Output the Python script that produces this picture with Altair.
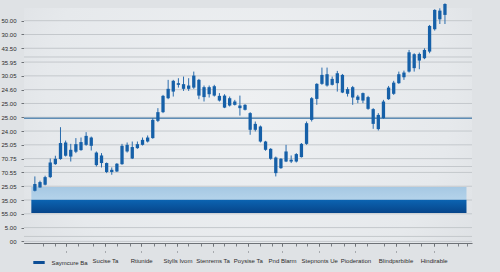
import altair as alt
import pandas as pd

# ---- data (chart units: one unit per y-axis tick) ----
high = [4.71,4.40,4.76,6.01,6.21,8.28,7.31,7.07,7.49,7.53,
        7.92,7.60,6.52,6.40,5.72,5.36,5.68,7.07,7.17,7.24,
        7.24,7.53,7.68,8.94,9.66,10.62,11.71,11.71,11.83,11.95,
        11.83,12.31,11.78,11.30,11.30,11.35,10.75,10.67,10.50,10.26,
        10.57,9.95,9.37,8.69,8.40,7.29,6.76,6.15,6.04,7.00,
        6.23,6.40,7.13,8.69,10.46,11.47,12.60,12.60,11.95,12.36,
        12.14,11.18,11.27,10.62,10.79,10.55,9.66,9.30,10.26,11.27,
        11.64,12.31,12.38,13.88,13.64,13.69,14.00,15.69,16.83,16.90,
        17.26]
body_high = [4.16,4.30,4.66,5.72,5.99,7.13,7.17,6.64,7.05,7.20,
             7.65,7.53,6.44,6.23,5.68,5.19,5.63,6.93,7.00,6.84,
             7.05,7.36,7.53,8.81,9.37,10.55,11.06,11.64,11.47,11.40,
             11.30,12.02,11.71,11.18,11.18,11.25,10.55,10.57,10.38,10.14,
             9.85,9.90,9.30,8.52,8.33,7.24,6.71,6.08,5.99,6.52,
             5.92,6.33,7.07,8.57,10.38,11.42,12.07,12.12,11.78,12.19,
             12.07,11.04,11.18,10.50,10.75,10.46,9.59,9.17,10.14,11.15,
             11.51,12.12,12.24,13.71,13.57,13.59,13.88,15.62,16.78,16.73,
             17.21]
body_low = [3.67,3.91,4.11,4.66,5.60,5.97,6.21,6.15,6.50,6.62,
            7.00,6.93,5.53,5.68,5.03,5.03,5.07,5.60,6.52,6.01,
            6.76,7.00,7.24,7.49,8.74,9.37,10.38,10.86,11.35,11.06,
            11.06,11.15,10.57,10.46,10.67,10.57,10.21,9.70,9.85,9.90,
            9.66,9.54,8.09,8.09,7.24,6.64,5.99,4.95,5.31,5.79,
            5.79,5.79,6.11,7.07,8.81,10.33,11.42,11.30,11.35,11.47,
            10.79,10.70,10.43,10.26,10.21,9.61,8.52,8.14,8.94,10.31,
            10.70,11.47,11.90,12.31,12.56,13.11,13.28,13.76,15.38,16.10,
            16.42]
low = [3.62,3.89,4.06,4.59,5.55,5.92,6.15,5.79,6.40,6.57,
       6.93,6.59,5.43,5.36,4.95,4.83,5.03,5.55,6.44,5.97,
       6.71,6.95,7.17,7.44,8.65,9.30,10.31,10.50,11.15,10.91,
       10.91,11.06,10.31,10.14,10.43,10.50,10.14,9.66,9.78,9.85,
       9.12,9.49,7.73,7.97,7.17,6.57,5.92,4.71,5.26,5.75,
       5.68,5.72,6.08,7.00,8.69,9.90,11.35,11.22,11.30,10.86,
       10.75,10.50,9.90,10.02,10.02,9.54,8.16,8.04,8.88,10.26,
       10.62,11.42,11.71,12.24,12.31,12.48,13.21,13.64,15.28,15.76,
       15.76]

y_labels = ["00", "5.00", "55.00", "35.00", "25.05", "70.55", "70.75", "25.05",
            "24.00", "25.00", "25.00", "24.60", "30.05", "35.95", "43.50", "30.00", "50.00"]
x_label_pos = [6.05, 13.68, 20.74, 27.80, 34.67, 41.54, 48.22, 55.47, 62.53, 70.36, 77.80]
x_labels = ["", "Sucise Ta", "Rtiunide", "Stylls Ivom", "Stenrems Ta", "Poysise Ta",
            "Pnd Blarm", "Stepnonts Ue", "Pioderation", "Blindpsrbible", "Hindirable"]
legend_label = "Saymcure Ba"
x_minor = [1.66, 3.95, 6.05, 8.34, 11.39, 13.68, 15.97, 18.64, 20.74, 23.23, 25.32, 27.80,
           29.90, 32.39, 34.67, 36.97, 39.26, 41.54, 43.84, 46.32, 48.22, 50.90, 53.00,
           55.47, 57.77, 60.25, 62.53, 64.83, 68.07, 70.36, 73.03, 75.32, 77.80, 80.47,
           82.57, 84.30]
ref_level = 8.93
extra_grid = [13.37, 5.43, 0.36]
light_band = [3.02, 3.94]
dark_band = [2.06, 3.02]
band_x = [-0.69, 84.2]

FONT = "Liberation Sans"
CANDLE = "#1660a8"

candles = pd.DataFrame({
    "i": list(range(len(high))),
    "high": high, "low": low, "bh": body_high, "bl": body_low,
})
xs = alt.Scale(domain=[-1.145, 84.3], nice=False, zero=False)
ys = alt.Scale(domain=[-0.116, 16.92], nice=False, zero=False)

one = pd.DataFrame({"a": [0]})

bg = alt.Chart(one).mark_rect(
    fill=alt.RadialGradient(
        gradient="radial", x1=0.5, y1=0.45, r1=0, x2=0.5, y2=0.45, r2=0.75,
        stops=[alt.GradientStop(color="#eef0f2", offset=0),
               alt.GradientStop(color="#e6e9ec", offset=0.6),
               alt.GradientStop(color="#d6d9dd", offset=1)])
).encode(x=alt.value(0), x2=alt.value("width"), y=alt.value(0), y2=alt.value("height"))

grid_df = pd.DataFrame({"g": list(range(len(y_labels))) + extra_grid})
grid = alt.Chart(grid_df).mark_rule(color="#c4c8cc", strokeWidth=1).encode(
    y=alt.Y("g:Q", scale=ys, axis=None))

ref = alt.Chart(pd.DataFrame({"r": [ref_level]})).mark_rule(
    color="#5f8db5", strokeWidth=1.6).encode(y=alt.Y("r:Q", scale=ys, axis=None))

bands_df = pd.DataFrame({
    "x0": [band_x[0]], "x1": [band_x[1]],
    "l0": [light_band[0]], "l1": [light_band[1]],
    "d0": [dark_band[0]], "d1": [dark_band[1]],
})
light = alt.Chart(bands_df).mark_rect(
    fill=alt.LinearGradient(gradient="linear", x1=0, y1=0, x2=0, y2=1,
                            stops=[alt.GradientStop(color="#a6c8e3", offset=0),
                                   alt.GradientStop(color="#b4d3ea", offset=1)])
).encode(x=alt.X("x0:Q", scale=xs, axis=None), x2="x1:Q",
         y=alt.Y("l0:Q", scale=ys, axis=None), y2="l1:Q")
dark = alt.Chart(bands_df).mark_rect(
    fill=alt.LinearGradient(gradient="linear", x1=0, y1=0, x2=0, y2=1,
                            stops=[alt.GradientStop(color="#0c64b2", offset=0),
                                   alt.GradientStop(color="#06458a", offset=1)])
).encode(x=alt.X("x0:Q", scale=xs, axis=None), x2="x1:Q",
         y=alt.Y("d0:Q", scale=ys, axis=None), y2="d1:Q")

minor_axis = alt.Axis(orient="bottom", values=x_minor, labels=False, tickSize=3,
                      tickColor="#7a7e83", domainColor="#6e7277", grid=False, title=None)
wicks = alt.Chart(candles).mark_rule(color="#2a6cad", strokeWidth=1).encode(
    x=alt.X("i:Q", scale=xs, axis=minor_axis),
    y=alt.Y("low:Q", scale=ys, axis=None), y2="high:Q")

pos_int = [int(round(p * 100)) for p in x_label_pos]
label_expr = "[" + ",".join("'%s'" % s for s in x_labels) + "][indexof([" + \
    ",".join(str(p) for p in pos_int) + "], round(datum.value*100))]"
major_axis = alt.Axis(orient="bottom", values=x_label_pos, labelExpr=label_expr,
                      tickSize=9, tickDash=[3, 5, 1, 50], tickColor="#6e7277",
                      domain=False, grid=False, title=None, labelPadding=5,
                      labelFont=FONT, labelFontSize=6, labelColor="#2b2b2b")
y_expr = "[" + ",".join("'%s'" % s for s in y_labels) + "][datum.value]"
y_axis = alt.Axis(values=list(range(len(y_labels))), labelExpr=y_expr, grid=False,
                  tickSize=3, labelPadding=5, tickColor="#6e7277", domainColor="#5a5e63",
                  labelFont=FONT, labelFontSize=6, labelColor="#2b2b2b", title=None)
bodies = alt.Chart(candles).mark_bar(size=3.3, color=CANDLE).encode(
    x=alt.X("i:Q", scale=xs, axis=major_axis),
    y=alt.Y("bl:Q", scale=ys, axis=y_axis), y2="bh:Q")

leg = alt.Chart(pd.DataFrame({"s": [legend_label]})).mark_rule(opacity=0).encode(
    y=alt.value(-50),
    color=alt.Color("s:N", scale=alt.Scale(range=["#0c4e96"]),
                    legend=alt.Legend(orient="none", legendX=7.5, legendY=247, title=None,
                                      symbolType="stroke", symbolSize=130,
                                      symbolStrokeWidth=3, symbolOpacity=1, padding=0,
                                      labelOffset=5, labelFont=FONT, labelFontSize=6,
                                      labelColor="#2b2b2b")))

chart = alt.layer(bg, grid, ref, light, dark, wicks, bodies, leg).resolve_axis(
    x="independent", y="independent"
).properties(
    width=448, height=235,
    padding={"left": 24, "top": 8, "right": 28, "bottom": 29},
    autosize=alt.AutoSizeParams(type="none"),
    background="#dfe2e5",
).configure_view(stroke=None)

chart.save("out.html", embed_options={"renderer": "svg", "actions": False})
